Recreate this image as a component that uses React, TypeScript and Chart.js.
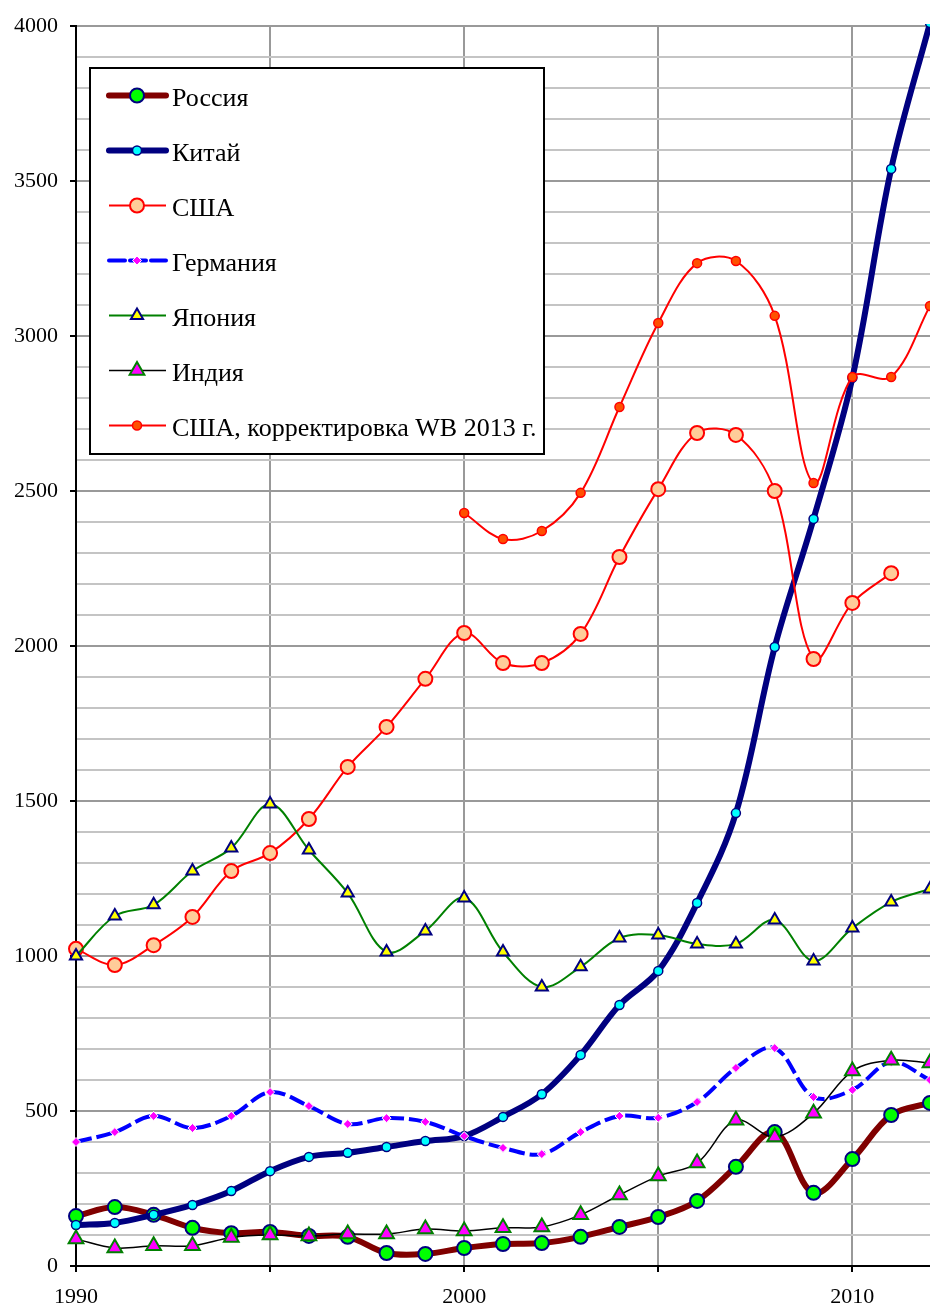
import React, { useEffect, useRef } from "react";
import { Chart, registerables } from "chart.js";

Chart.register(...registerables);

const years = [1990, 1991, 1992, 1993, 1994, 1995, 1996, 1997, 1998, 1999, 2000, 2001, 2002, 2003, 2004, 2005, 2006, 2007, 2008, 2009, 2010, 2011, 2012];
const russia = [161, 190, 165, 123, 106, 110, 97, 94, 42, 39, 58, 71, 74, 94, 126, 158, 210, 320, 432, 236, 345, 487, 526];
const china = [132, 139, 165, 197, 242, 306, 352, 365, 384, 403, 419, 481, 554, 681, 842, 952, 1171, 1461, 1997, 2410, 2865, 3539, 4010];
const usa = [1023, 971, 1035, 1126, 1274, 1332, 1442, 1610, 1739, 1894, 2042, 1945, 1945, 2039, 2287, 2506, 2687, 2681, 2500, 1958, 2139, 2235, null];
const germany = [400, 432, 484, 445, 484, 561, 516, 458, 477, 465, 419, 381, 361, 432, 484, 478, 529, 639, 703, 545, 568, 658, 600];
const japan = [1000, 1129, 1165, 1274, 1348, 1490, 1342, 1203, 1013, 1081, 1187, 1013, 900, 965, 1058, 1068, 1039, 1039, 1116, 984, 1090, 1174, 1216];
const india = [87, 58, 65, 65, 92, 100, 97, 103, 103, 119, 113, 123, 126, 165, 229, 290, 332, 470, 416, 493, 629, 664, 655];
const usaWB = [null, null, null, null, null, null, null, null, null, null, 2429, 2345, 2371, 2494, 2771, 3042, 3235, 3242, 3065, 2526, 2868, 2868, 3097];

const seriesNames = ["Россия", "Китай", "США", "Германия", "Япония", "Индия", "США, корректировка WB 2013 г."];
const yTickLabels = [0, 500, 1000, 1500, 2000, 2500, 3000, 3500, 4000];
const xTickLabels = [1990, 2000, 2010];

const FONT = '"Liberation Serif", "Times New Roman", serif';

type Style = {
  line: string;
  lineWidth: number;
  dash: number[];
  point: "circle" | "triangle" | "rectRot";
  radius: number;
  fill: string;
  stroke: string;
  strokeWidth: number;
};

const styles: Style[] = [
  { line: "#800000", lineWidth: 6, dash: [], point: "circle", radius: 7, fill: "#00ff00", stroke: "#000080", strokeWidth: 2 },
  { line: "#000080", lineWidth: 6, dash: [], point: "circle", radius: 4.5, fill: "#00ffff", stroke: "#000080", strokeWidth: 1.5 },
  { line: "#ff0000", lineWidth: 2, dash: [], point: "circle", radius: 7, fill: "#ffcc99", stroke: "#ff0000", strokeWidth: 2 },
  { line: "#0000ff", lineWidth: 4, dash: [16, 5], point: "rectRot", radius: 4.5, fill: "#ff00ff", stroke: "#ffffff", strokeWidth: 1 },
  { line: "#008000", lineWidth: 2, dash: [], point: "triangle", radius: 7, fill: "#ffff00", stroke: "#000080", strokeWidth: 2 },
  { line: "#000000", lineWidth: 1.5, dash: [], point: "triangle", radius: 8.5, fill: "#ff00ff", stroke: "#008000", strokeWidth: 2 },
  { line: "#ff0000", lineWidth: 2, dash: [], point: "circle", radius: 4.5, fill: "#ff5000", stroke: "#ff0000", strokeWidth: 1.5 },
];

const seriesData = [russia, china, usa, germany, japan, india, usaWB];

function drawMarker(ctx: CanvasRenderingContext2D, s: Style, x: number, y: number) {
  ctx.save();
  ctx.setLineDash([]);
  ctx.beginPath();
  const r = s.radius;
  if (s.point === "circle") {
    ctx.arc(x, y, r, 0, Math.PI * 2);
  } else if (s.point === "triangle") {
    let rad = 0;
    ctx.moveTo(x + Math.sin(rad) * r, y - Math.cos(rad) * r);
    rad += (2 * Math.PI) / 3;
    ctx.lineTo(x + Math.sin(rad) * r, y - Math.cos(rad) * r);
    rad += (2 * Math.PI) / 3;
    ctx.lineTo(x + Math.sin(rad) * r, y - Math.cos(rad) * r);
    ctx.closePath();
  } else {
    ctx.moveTo(x, y - r);
    ctx.lineTo(x + r, y);
    ctx.lineTo(x, y + r);
    ctx.lineTo(x - r, y);
    ctx.closePath();
  }
  ctx.fillStyle = s.fill;
  ctx.fill();
  ctx.lineWidth = s.strokeWidth;
  ctx.strokeStyle = s.stroke;
  ctx.stroke();
  ctx.restore();
}

const legendPlugin = {
  id: "insideLegend",
  afterDraw(chart: any) {
    const ctx: CanvasRenderingContext2D = chart.ctx;
    ctx.save();
    const bx = 90, by = 68, bw = 454, bh = 386;
    ctx.fillStyle = "#ffffff";
    ctx.fillRect(bx, by, bw, bh);
    ctx.lineWidth = 2;
    ctx.strokeStyle = "#000000";
    ctx.strokeRect(bx, by, bw, bh);
    ctx.font = `26px ${FONT}`;
    ctx.textBaseline = "alphabetic";
    ctx.textAlign = "left";
    seriesNames.forEach((name, i) => {
      const s = styles[i];
      const y = 95.5 + i * 55;
      ctx.save();
      ctx.strokeStyle = s.line;
      ctx.lineWidth = s.lineWidth;
      ctx.lineCap = s.lineWidth > 3 ? "round" : "butt";
      ctx.setLineDash(s.dash);
      ctx.beginPath();
      ctx.moveTo(109, y);
      ctx.lineTo(166, y);
      ctx.stroke();
      ctx.restore();
      drawMarker(ctx, s, 137, y);
      ctx.fillStyle = "#000000";
      ctx.fillText(name, 172, y + 10);
    });
    ctx.restore();
  },
};

export default function App() {
  const ref = useRef<HTMLCanvasElement | null>(null);

  useEffect(() => {
    if (!ref.current) return;
    const datasets = seriesNames.map((name, i) => {
      const s = styles[i];
      return {
        label: name,
        data: years.map((yr, k) => ({ x: yr, y: seriesData[i][k] as any })),
        borderColor: s.line,
        borderWidth: s.lineWidth,
        borderDash: s.dash,
        backgroundColor: s.fill,
        pointStyle: s.point,
        pointRadius: s.radius,
        pointBackgroundColor: s.fill,
        pointBorderColor: s.stroke,
        pointBorderWidth: s.strokeWidth,
        tension: 0.35,
        spanGaps: false,
        fill: false,
        order: seriesNames.length - i,
        clip: { left: 12, right: 12, top: 2, bottom: 12 },
      };
    });

    const chart = new Chart(ref.current, {
      type: "line",
      data: { datasets },
      plugins: [legendPlugin],
      options: {
        animation: false,
        responsive: false,
        devicePixelRatio: 1,
        layout: { autoPadding: false, padding: { top: 26, left: 0, right: 0, bottom: 0 } },
        plugins: { legend: { display: false }, tooltip: { enabled: false } },
        scales: {
          x: {
            type: "linear",
            min: 1990,
            max: 2012,
            afterFit: (s: any) => { s.height = 41; s.paddingLeft = 0; s.paddingRight = 0; },
            ticks: {
              stepSize: 5,
              includeBounds: false,
              autoSkip: false,
              maxRotation: 0,
              padding: 12,
              color: "#000000",
              font: { family: FONT, size: 22 },
              callback: (v: any) => (xTickLabels.includes(Number(v)) ? String(v) : ""),
            },
            grid: {
              color: "#999999",
              lineWidth: 2,
              drawTicks: true,
              tickLength: 6,
              tickColor: "#000000",
              tickWidth: 2,
            },
            border: { display: true, color: "#000000", width: 2 },
          },
          y: {
            type: "linear",
            min: 0,
            max: 4000,
            afterFit: (s: any) => { s.width = 76; },
            ticks: {
              stepSize: 100,
              autoSkip: false,
              padding: 12,
              color: "#000000",
              font: { family: FONT, size: 22 },
              callback: (v: any) => (yTickLabels.includes(Number(v)) ? String(v) : ""),
            },
            grid: {
              color: (c: any) => (c.tick && c.tick.value % 500 === 0 ? "#999999" : "#c4c4c4"),
              lineWidth: 2,
              drawTicks: true,
              tickLength: 6,
              tickColor: (c: any) => (c.tick && c.tick.value % 500 === 0 ? "#000000" : "rgba(0,0,0,0)"),
              tickWidth: 2,
            },
            border: { display: true, color: "#000000", width: 2 },
          },
        },
      } as any,
    });
    return () => chart.destroy();
  }, []);

  return (
    <div style={{ position: "absolute", left: 0, top: 0, width: 930, height: 1307, background: "#ffffff" }}>
      <canvas ref={ref} width={930} height={1307} style={{ width: 930, height: 1307, display: "block" }} />
    </div>
  );
}
